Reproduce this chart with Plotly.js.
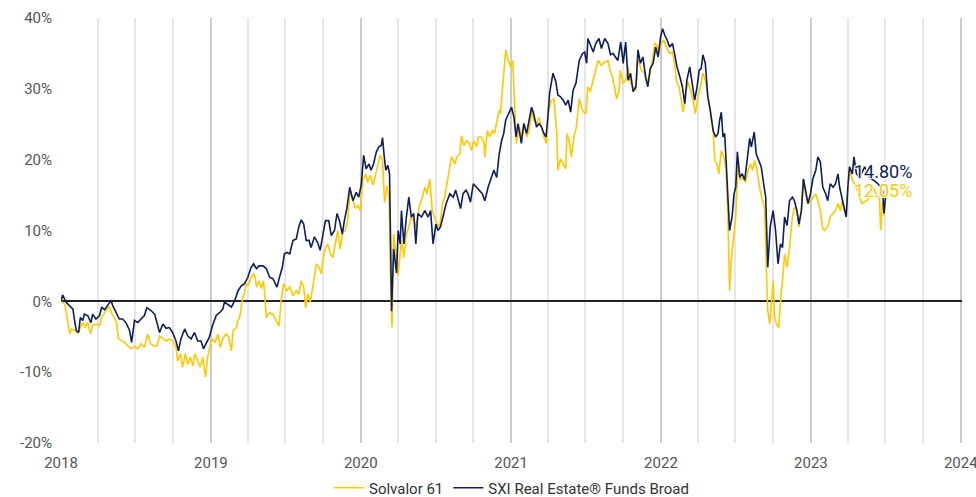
<!DOCTYPE html>
<html>
<head>
<meta charset="utf-8">
<script src="https://cdn.plot.ly/plotly-3.0.1.min.js"></script>
<style>
html,body{margin:0;padding:0;background:#fff;}
#chart{width:976px;height:497px;}
</style>
</head>
<body>
<div id="chart"></div>
<script>
// Dates as decimal years, values in percent
const solvalorName = "Solvalor 61";
const sxiName = "SXI Real Estate® Funds Broad";

const solvalorYears = [2018.002,2018.025,2018.042,2018.058,2018.073,2018.091,2018.113,2018.131,2018.147,2018.162,2018.180,2018.198,2018.213,2018.235,2018.258,2018.273,2018.291,2018.309,2018.325,2018.340,2018.358,2018.375,2018.385,2018.407,2018.425,2018.447,2018.469,2018.491,2018.513,2018.535,2018.558,2018.580,2018.598,2018.620,2018.642,2018.658,2018.680,2018.702,2018.725,2018.747,2018.769,2018.780,2018.798,2018.813,2018.831,2018.847,2018.865,2018.880,2018.895,2018.913,2018.931,2018.947,2018.965,2018.980,2018.998,2019.013,2019.029,2019.047,2019.065,2019.080,2019.102,2019.120,2019.138,2019.149,2019.171,2019.182,2019.193,2019.205,2019.215,2019.227,2019.238,2019.249,2019.271,2019.287,2019.297,2019.305,2019.315,2019.322,2019.338,2019.353,2019.360,2019.371,2019.393,2019.405,2019.415,2019.438,2019.455,2019.471,2019.487,2019.509,2019.527,2019.549,2019.571,2019.589,2019.605,2019.620,2019.633,2019.649,2019.665,2019.682,2019.705,2019.722,2019.738,2019.753,2019.767,2019.782,2019.798,2019.815,2019.833,2019.849,2019.865,2019.882,2019.898,2019.915,2019.931,2019.949,2019.967,2019.982,2019.998,2020.015,2020.033,2020.049,2020.065,2020.082,2020.100,2020.115,2020.131,2020.145,2020.160,2020.175,2020.189,2020.198,2020.209,2020.220,2020.238,2020.250,2020.271,2020.287,2020.305,2020.322,2020.338,2020.353,2020.371,2020.389,2020.411,2020.427,2020.442,2020.460,2020.478,2020.493,2020.509,2020.527,2020.545,2020.560,2020.582,2020.605,2020.627,2020.642,2020.660,2020.671,2020.687,2020.705,2020.722,2020.738,2020.753,2020.771,2020.782,2020.805,2020.820,2020.827,2020.842,2020.860,2020.878,2020.893,2020.909,2020.922,2020.931,2020.945,2020.953,2020.967,2020.982,2020.998,2021.011,2021.022,2021.038,2021.055,2021.071,2021.087,2021.105,2021.122,2021.138,2021.153,2021.171,2021.189,2021.205,2021.220,2021.238,2021.249,2021.271,2021.287,2021.305,2021.315,2021.331,2021.349,2021.367,2021.375,2021.389,2021.405,2021.420,2021.438,2021.455,2021.471,2021.487,2021.500,2021.515,2021.531,2021.549,2021.567,2021.582,2021.605,2021.627,2021.649,2021.665,2021.678,2021.693,2021.705,2021.722,2021.731,2021.749,2021.767,2021.782,2021.798,2021.815,2021.833,2021.849,2021.871,2021.893,2021.909,2021.927,2021.945,2021.960,2021.975,2021.989,2022.005,2022.020,2022.038,2022.060,2022.078,2022.093,2022.105,2022.122,2022.138,2022.149,2022.165,2022.182,2022.198,2022.215,2022.231,2022.249,2022.265,2022.282,2022.298,2022.315,2022.331,2022.349,2022.360,2022.375,2022.389,2022.405,2022.420,2022.433,2022.449,2022.460,2022.471,2022.487,2022.500,2022.515,2022.531,2022.549,2022.567,2022.582,2022.598,2022.611,2022.627,2022.642,2022.660,2022.678,2022.693,2022.705,2022.715,2022.727,2022.738,2022.749,2022.760,2022.771,2022.787,2022.798,2022.811,2022.827,2022.842,2022.860,2022.878,2022.893,2022.909,2022.922,2022.938,2022.949,2022.967,2022.982,2023.000,2023.015,2023.033,2023.049,2023.065,2023.078,2023.093,2023.115,2023.131,2023.149,2023.167,2023.182,2023.198,2023.211,2023.227,2023.238,2023.249,2023.260,2023.278,2023.293,2023.313,2023.340,2023.380,2023.420,2023.440,2023.460,2023.467,2023.477,2023.493];
const solvalorValues = [0,-0.4,-2.3,-4.6,-3.9,-4.1,-4.5,-3.7,-3.0,-3.7,-3.0,-4.6,-3.4,-3.2,-3.4,-2.3,-1.6,-1.1,-0.8,-1.8,-2.3,-3.2,-5.3,-5.6,-5.8,-6.3,-6.7,-6.3,-6.7,-6.0,-6.5,-4.6,-6.0,-6.3,-6.3,-4.9,-5.3,-5.6,-5.3,-5.6,-6.5,-8.4,-7.4,-9.3,-7.4,-8.9,-7.9,-9.1,-7.4,-8.4,-9.3,-7.9,-10.7,-7.9,-6.0,-5.3,-5.8,-4.6,-6.5,-5.3,-4.6,-5.0,-7.0,-4.1,-3.7,-2.7,-2.3,-0.8,0.6,1.3,2.5,2.2,3.4,3.9,3.4,2.0,2.5,2.9,1.8,2.9,1.0,-2.3,-1.6,-1.8,-1.8,-2.7,-3.5,0.1,2.5,1.5,2.0,0.8,1.5,1.0,2.9,2.0,-0.9,1.0,-0.1,2.0,5.3,4.8,3.9,6.2,7.6,8.1,6.7,6.2,8.6,10.0,7.4,9.8,10.0,11.4,15.7,14.2,13.1,13.5,12.8,17.1,18.0,16.8,17.8,16.4,18.0,19.4,20.6,19.9,14.0,16.3,14.7,4.3,-3.7,9.5,5.5,3.7,8.6,6.2,9.5,10.5,11.9,11.4,10.5,13.3,14.7,16.1,15.2,17.3,12.8,11.9,10.9,10.5,13.8,14.7,18.0,20.4,19.4,20.4,20.8,23.4,22.0,22.7,22.3,21.3,22.7,21.8,23.2,23.2,22.3,20.4,24.1,23.2,24.1,23.7,25.6,27.0,26.5,30.0,31.2,35.5,34.0,33.1,34.0,27.9,22.3,24.6,23.2,25.1,23.2,24.1,27.0,25.6,25.1,26.0,24.6,23.2,22.3,26.5,28.4,28.6,24.1,18.5,20.1,19.4,18.7,23.7,22.7,20.4,23.2,24.6,28.6,27.4,26.7,26.5,30.3,29.6,31.2,32.6,34.0,33.3,33.8,34.0,32.4,31.7,30.3,28.6,29.8,32.6,30.8,31.2,33.1,30.8,30.3,29.8,34.5,32.6,32.2,30.8,32.2,34.0,36.4,36.2,35.0,36.4,36.9,35.9,35.0,35.2,33.6,31.0,30.3,28.4,26.7,29.3,31.0,29.8,28.4,26.5,28.9,30.3,32.2,31.2,28.9,27.0,24.1,19.9,19.4,18.0,21.3,20.4,19.0,11.9,1.5,5.8,9.5,11.9,19.0,17.1,17.5,16.8,18.5,19.4,18.5,19.9,18.5,16.1,14.2,13.3,3.9,-1.3,-3.2,0.6,2.9,-2.3,-3.2,-3.7,0.1,2.9,6.7,4.8,7.6,11.9,13.3,12.8,10.5,13.3,17.1,15.2,13.8,14.2,14.7,15.2,14.2,12.8,10.5,10.0,10.5,11.9,12.4,12.8,13.8,12.8,14.2,12.8,12.4,16.1,19.0,17.1,16.6,15.5,13.8,14.3,16.0,15.0,14.5,10.0,14.0,12.05];

const sxiYears = [2018.002,2018.013,2018.035,2018.058,2018.080,2018.091,2018.102,2018.118,2018.131,2018.147,2018.158,2018.180,2018.202,2018.213,2018.235,2018.258,2018.273,2018.291,2018.313,2018.335,2018.347,2018.369,2018.391,2018.413,2018.435,2018.458,2018.473,2018.491,2018.513,2018.535,2018.558,2018.575,2018.602,2018.625,2018.642,2018.658,2018.680,2018.702,2018.725,2018.747,2018.769,2018.785,2018.802,2018.825,2018.847,2018.869,2018.891,2018.913,2018.935,2018.953,2018.969,2018.991,2019.013,2019.037,2019.060,2019.080,2019.093,2019.115,2019.138,2019.160,2019.182,2019.205,2019.227,2019.249,2019.271,2019.287,2019.305,2019.322,2019.349,2019.371,2019.393,2019.415,2019.442,2019.460,2019.478,2019.493,2019.509,2019.527,2019.549,2019.571,2019.589,2019.605,2019.620,2019.638,2019.655,2019.671,2019.693,2019.715,2019.731,2019.749,2019.767,2019.789,2019.805,2019.827,2019.842,2019.860,2019.878,2019.893,2019.909,2019.927,2019.949,2019.971,2019.989,2020.005,2020.020,2020.038,2020.055,2020.071,2020.087,2020.105,2020.122,2020.138,2020.147,2020.157,2020.167,2020.182,2020.193,2020.200,2020.207,2020.220,2020.238,2020.250,2020.265,2020.271,2020.287,2020.305,2020.322,2020.338,2020.353,2020.367,2020.382,2020.405,2020.427,2020.449,2020.465,2020.482,2020.500,2020.515,2020.531,2020.549,2020.571,2020.593,2020.615,2020.633,2020.649,2020.665,2020.682,2020.700,2020.715,2020.731,2020.749,2020.771,2020.793,2020.811,2020.827,2020.849,2020.871,2020.887,2020.905,2020.922,2020.938,2020.953,2020.967,2020.989,2021.005,2021.020,2021.033,2021.049,2021.071,2021.087,2021.105,2021.122,2021.138,2021.153,2021.171,2021.189,2021.205,2021.220,2021.233,2021.245,2021.260,2021.280,2021.300,2021.315,2021.331,2021.349,2021.367,2021.382,2021.398,2021.415,2021.433,2021.455,2021.478,2021.493,2021.505,2021.515,2021.531,2021.549,2021.567,2021.589,2021.605,2021.627,2021.649,2021.665,2021.682,2021.700,2021.715,2021.733,2021.749,2021.767,2021.782,2021.798,2021.815,2021.833,2021.849,2021.865,2021.882,2021.900,2021.915,2021.931,2021.949,2021.967,2021.982,2021.998,2022.011,2022.027,2022.042,2022.060,2022.078,2022.093,2022.109,2022.127,2022.145,2022.160,2022.175,2022.193,2022.211,2022.227,2022.242,2022.255,2022.271,2022.282,2022.298,2022.315,2022.331,2022.349,2022.367,2022.382,2022.393,2022.405,2022.415,2022.427,2022.438,2022.449,2022.460,2022.475,2022.489,2022.500,2022.511,2022.527,2022.545,2022.560,2022.575,2022.593,2022.605,2022.622,2022.638,2022.655,2022.671,2022.687,2022.700,2022.715,2022.731,2022.749,2022.767,2022.782,2022.798,2022.811,2022.827,2022.842,2022.860,2022.878,2022.893,2022.909,2022.922,2022.938,2022.953,2022.967,2022.982,2022.998,2023.015,2023.033,2023.049,2023.065,2023.082,2023.100,2023.115,2023.131,2023.149,2023.167,2023.182,2023.193,2023.211,2023.227,2023.238,2023.249,2023.260,2023.278,2023.289,2023.305,2023.327,2023.360,2023.393,2023.427,2023.453,2023.480,2023.490,2023.500];
const sxiValues = [0,0.9,-0.1,-0.6,-1.1,-2.7,-4.1,-4.4,-2.3,-2.7,-1.8,-2.0,-3.0,-1.8,-2.5,-2.0,-0.8,-1.2,-0.6,0.1,-0.6,-1.6,-2.5,-2.5,-3.0,-4.1,-5.8,-2.7,-3.0,-2.5,-2.0,-0.9,-1.3,-1.8,-3.0,-4.4,-3.2,-3.8,-3.7,-4.4,-5.6,-7.0,-5.3,-3.9,-4.9,-5.3,-4.4,-5.6,-5.6,-6.7,-6.0,-5.1,-3.4,-2.0,-1.6,-1.1,-0.1,-0.4,-0.8,0.1,1.5,2.2,2.5,3.4,4.8,5.3,4.6,5.0,5.0,4.6,3.4,3.2,2.0,3.4,4.8,6.7,6.9,6.7,8.6,8.8,10.5,11.5,10.9,8.6,8.6,7.6,9.1,8.3,7.2,9.5,11.4,11.4,9.3,10.0,12.4,11.4,9.5,11.4,13.1,16.1,14.2,15.4,14.7,16.4,20.6,18.7,19.4,18.5,19.4,21.1,21.8,22.0,23.1,20.5,18.5,19.2,18.0,6.7,-1.4,7.4,4.0,10.0,8.1,12.8,8.1,11.9,14.7,11.9,12.4,8.1,12.4,11.9,12.8,11.9,12.8,8.1,10.9,10.0,10.5,11.9,13.8,15.2,14.7,15.7,14.2,13.1,15.2,15.7,15.2,14.0,16.6,16.1,15.7,15.2,14.2,16.1,17.5,18.5,17.5,20.8,22.7,23.7,25.6,26.5,27.4,26.0,23.2,25.1,22.3,25.1,23.7,25.6,27.4,26.5,24.6,25.1,24.6,23.7,23.2,25.6,29.5,32.2,31.0,29.1,28.9,28.4,27.7,28.4,26.7,29.8,30.8,34.0,35.0,35.2,33.6,37.1,36.2,35.2,36.4,37.1,35.7,37.1,36.4,34.8,35.0,34.3,34.0,36.6,33.6,36.6,31.2,32.2,29.6,30.3,35.5,33.6,34.5,31.5,30.3,32.9,33.6,35.9,34.5,37.3,38.5,37.6,36.9,35.9,36.4,35.0,33.1,31.7,30.3,27.9,31.2,33.1,30.3,28.4,30.3,32.6,32.9,34.8,33.6,28.9,27.0,24.1,23.2,23.7,25.6,26.7,23.2,23.7,19.4,15.2,10.0,11.9,15.2,16.1,21.1,17.5,18.0,17.1,19.9,23.0,21.8,23.9,20.8,19.7,19.0,16.6,14.7,4.8,10.5,12.8,10.0,5.3,8.1,7.6,11.9,10.7,14.2,14.7,14.2,12.8,10.9,12.8,17.3,15.7,13.8,15.2,17.3,18.5,20.4,19.7,16.1,15.2,14.2,16.6,16.1,16.6,18.0,16.1,14.2,12.8,11.9,16.1,19.0,18.0,20.4,18.0,17.5,19.0,17.5,17.0,16.5,15.5,12.4,14.8];

const yTicks = [-20, -10, 0, 10, 20, 30, 40];
const endLabels = ["14.80%", "12.05%"];

function toDate(y) {
  const yr = Math.floor(y);
  const start = Date.UTC(yr, 0, 1);
  const end = Date.UTC(yr + 1, 0, 1);
  const t = new Date(start + (y - yr) * (end - start));
  return t.toISOString().slice(0, 10);
}

const gold = "#FFC800";
const navy = "#0D1E5A";
const fontFam = "Roboto, 'Liberation Sans', sans-serif";

const traces = [
  {x: solvalorYears.map(toDate), y: solvalorValues, name: solvalorName, type: "scatter", mode: "lines",
   line: {color: gold, width: 1.6}},
  {x: sxiYears.map(toDate), y: sxiValues, name: sxiName, type: "scatter", mode: "lines",
   line: {color: navy, width: 1.6}}
];

const layout = {
  width: 976, height: 497,
  margin: {l: 61, r: 14, t: 18, b: 54, autoexpand: false},
  paper_bgcolor: "#fff", plot_bgcolor: "#fff",
  font: {family: fontFam, color: "#555", size: 15},
  showlegend: true,
  legend: {orientation: "h", x: 0.5, xanchor: "center", xref: "paper",
           y: 0.018, yanchor: "middle", yref: "container",
           font: {size: 15, color: "#333"}, itemwidth: 30},
  xaxis: {type: "date", range: ["2018-01-01", "2024-01-04"], dtick: "M12", tickformat: "%Y",
          tick0: "2018-01-01",
          showgrid: true, gridcolor: "#cbcbcb", gridwidth: 2,
          minor: {dtick: "M3", showgrid: true, gridcolor: "#e6e6e6", gridwidth: 2, tick0: "2018-01-01"},
          showline: false, zeroline: false, ticks: "", ticklabelstandoff: 9,
          ticklabeloverflow: "allow",
          tickfont: {size: 15, color: "#555"}},
  yaxis: {range: [-20, 40], tickvals: yTicks, ticktext: yTicks.map(v => v + "%"),
          showgrid: false, zeroline: true, zerolinecolor: "#222", zerolinewidth: 2,
          showline: false, ticks: "", ticklabelstandoff: 8, tickfont: {size: 15, color: "#555"}},
  annotations: [
    {x: toDate(2023.275), y: 18.3, xref: "x", yref: "y", text: endLabels[0], showarrow: false,
     xanchor: "left", yanchor: "middle",
     font: {size: 18, color: navy, family: fontFam, shadow: "1px 1px 0 #fff, -1px -1px 0 #fff, 1px -1px 0 #fff, -1px 1px 0 #fff"}},
    {x: toDate(2023.275), y: 15.6, xref: "x", yref: "y", text: endLabels[1], showarrow: false,
     xanchor: "left", yanchor: "middle",
     font: {size: 18, color: gold, family: fontFam, shadow: "1px 1px 0 #fff, -1px -1px 0 #fff, 1px -1px 0 #fff, -1px 1px 0 #fff"}}
  ]
};

Plotly.newPlot("chart", traces, layout, {displayModeBar: false, staticPlot: true});
</script>
</body>
</html>
